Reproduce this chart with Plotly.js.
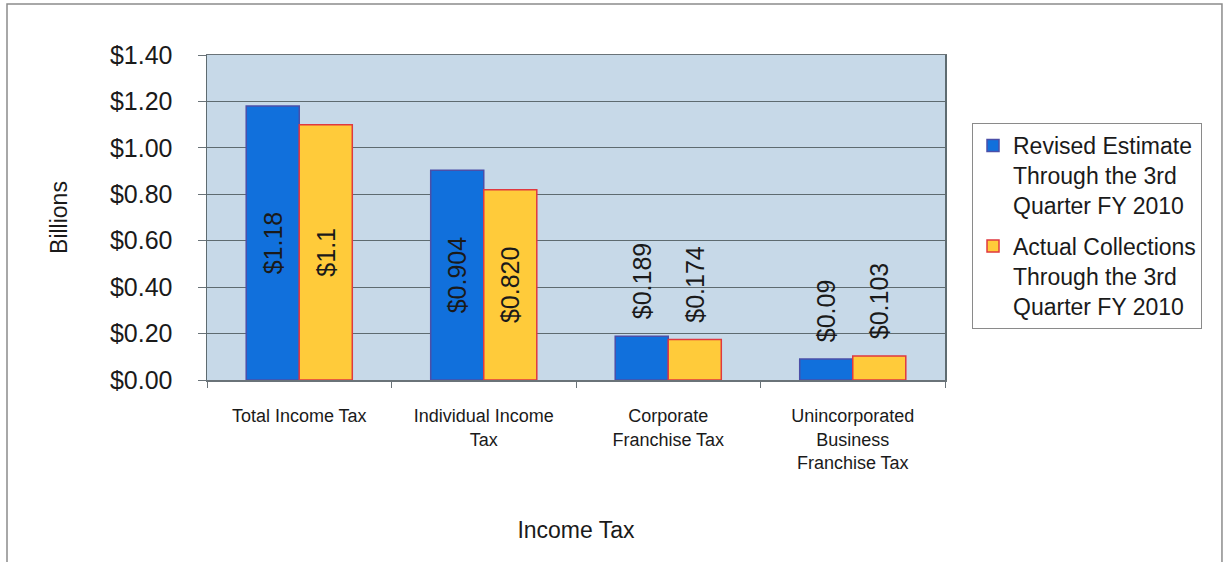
<!DOCTYPE html>
<html>
<head>
<meta charset="utf-8">
<script src="https://cdn.plot.ly/plotly-3.0.1.min.js"></script>
<style>html,body{margin:0;padding:0;background:#fff;}#chart{width:1225px;height:562px;}</style>
</head>
<body>
<div id="chart"></div>
<script>
const categories = ["Total Income Tax", "Individual Income<br>Tax", "Corporate<br>Franchise Tax", "Unincorporated<br>Business<br>Franchise Tax"];
const seriesNames = ["Revised Estimate<br>Through the 3rd<br>Quarter FY 2010", "Actual Collections<br>Through the 3rd<br>Quarter FY 2010"];
const revisedEstimate = [1.18, 0.904, 0.189, 0.09];
const actualCollections = [1.1, 0.820, 0.174, 0.103];
const revisedLabels = ["$1.18", "$0.904", "$0.189", "$0.09"];
const actualLabels = ["$1.1", "$0.820", "$0.174", "$0.103"];
const labelPositions = ["inside", "inside", "outside", "outside"];

const FONT = "Liberation Sans, Arial, sans-serif";
const textFont = {family: FONT, size: 25, color: "#1a1a1a"};

// outside labels sit a little above the bar, as in the original (text reads bottom-to-top)
function padLabels(labels) {
  return labels.map((t, i) => labelPositions[i] === "outside" ? "\u00a0\u00a0" + t : t);
}

const traces = [
  {
    type: "bar", name: seriesNames[0], x: categories, y: revisedEstimate,
    text: padLabels(revisedLabels), textposition: labelPositions, textangle: -90,
    insidetextanchor: "middle", constraintext: "none", cliponaxis: false,
    textfont: textFont, insidetextfont: textFont, outsidetextfont: textFont,
    marker: {color: "#1170dc", line: {color: "#4b4fa8", width: 1.5}},
    legendgroup: "a", hoverinfo: "none"
  },
  {
    type: "bar", name: seriesNames[1], x: categories, y: actualCollections,
    text: padLabels(actualLabels), textposition: labelPositions, textangle: -90,
    insidetextanchor: "middle", constraintext: "none", cliponaxis: false,
    textfont: textFont, insidetextfont: textFont, outsidetextfont: textFont,
    marker: {color: "#ffcb3a", line: {color: "#e0393f", width: 1.5}},
    legendgroup: "b", hoverinfo: "none"
  }
];

const layout = {
  width: 1225, height: 562,
  margin: {l: 207, r: 280, t: 55, b: 182},
  paper_bgcolor: "#ffffff",
  plot_bgcolor: "#c7d9e8",
  barmode: "group", bargap: 0.425, bargroupgap: 0,
  font: {family: FONT, color: "#1a1a1a"},
  showlegend: true,
  legend: {
    x: 1.0366, y: 0.791, xanchor: "left", yanchor: "top",
    bordercolor: "#8a8a8a", borderwidth: 1, bgcolor: "#ffffff",
    font: {family: FONT, size: 23, color: "#1a1a1a"},
    traceorder: "grouped", tracegroupgap: 8, valign: "top",
    entrywidth: 205, entrywidthmode: "pixels"
  },
  xaxis: {
    type: "category",
    tickson: "boundaries", ticks: "outside", ticklen: 6, tickcolor: "#6a7378",
    ticklabelstandoff: 19,
    showline: true, linecolor: "#6a7378", linewidth: 1.5, mirror: true,
    tickfont: {family: FONT, size: 18, color: "#1a1a1a"},
    title: {text: "Income Tax", font: {family: FONT, size: 23, color: "#1a1a1a"}, standoff: 50},
    fixedrange: true
  },
  yaxis: {
    range: [0, 1.4], dtick: 0.2, tick0: 0,
    tickprefix: "$", tickformat: ".2f",
    ticks: "outside", ticklen: 8, tickcolor: "#6a7378", ticklabelstandoff: 20,
    showgrid: true, gridcolor: "#5e6b70", gridwidth: 1,
    showline: true, linecolor: "#5e6b70", linewidth: 1.5, mirror: true,
    zeroline: false,
    tickfont: {family: FONT, size: 25, color: "#1a1a1a"},
    title: {text: "Billions", font: {family: FONT, size: 23, color: "#1a1a1a"}, standoff: 36},
    fixedrange: true
  },
  shapes: [
    {type: "rect", xref: "paper", yref: "paper", x0: -0.271, x1: 1.3753, y0: -0.6, y1: 1.157,
     line: {color: "#8c8c8c", width: 1.5}, fillcolor: "rgba(0,0,0,0)", layer: "below"}
  ]
};

Plotly.newPlot("chart", traces, layout, {displayModeBar: false, staticPlot: true});
</script>
</body>
</html>
